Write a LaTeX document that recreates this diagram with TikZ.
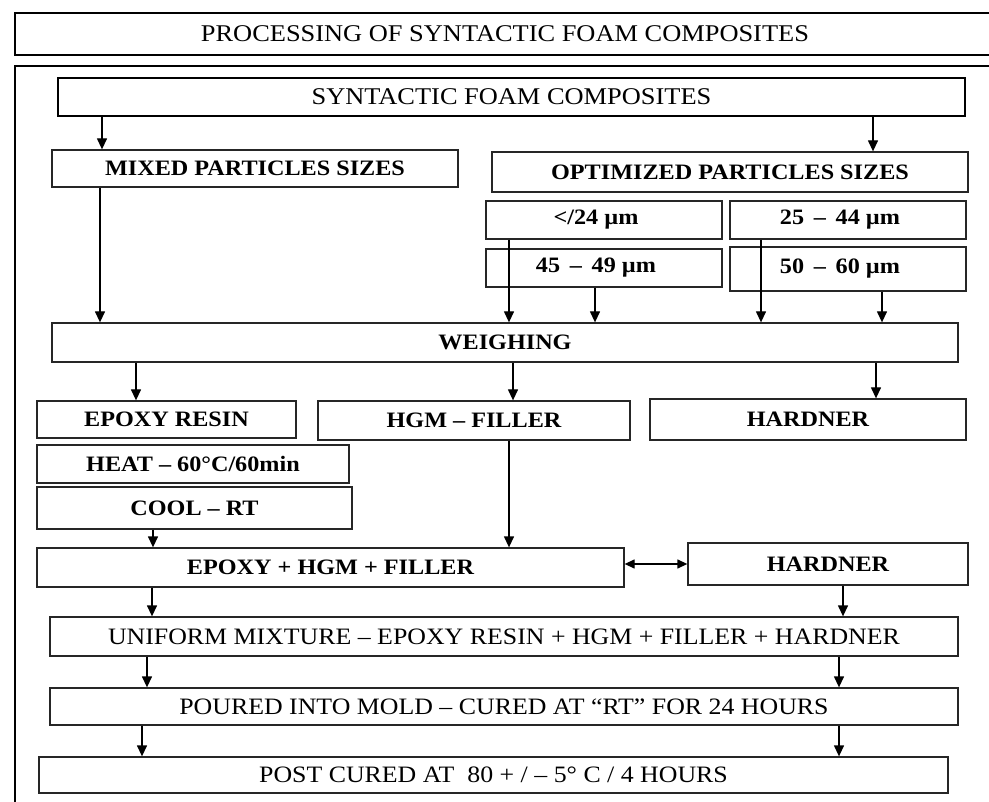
\documentclass[tikz,border=0pt]{standalone}
\usepackage{fontspec}
\setmainfont{Liberation Serif}[FakeStretch=1.1]
\usetikzlibrary{arrows.meta}

\begin{document}
\begin{tikzpicture}[
    x=1pt, y=-1pt,
    stage/.style={
      rectangle, draw=black!85, line width=1.3pt, inner sep=0pt,
      font=\fontsize{22}{26}\selectfont\bfseries
    },
    plainstage/.style={
      stage, font=\fontsize{23.5}{28}\selectfont
    },
    heavy/.style={draw=black, line width=2.8pt},
    wh/.style 2 args={minimum width=#1pt, minimum height=#2pt},
    arr/.style={-{Triangle[length=11pt,width=10pt]}, line width=1.3pt},
    arrboth/.style={{Triangle[length=10pt,width=9pt]}-{Triangle[length=10pt,width=9pt]}, line width=1.3pt},
]
\useasboundingbox (0,0) rectangle (989,802);
\clip (0,0) rectangle (989,802);

% ===== FRAMES =====
\node[plainstage, heavy, wh={980}{42}, font=\fontsize{24}{28}\selectfont] (title) at (505,34)
  {PROCESSING OF SYNTACTIC FOAM COMPOSITES};
\draw[line width=2.8pt] (15,66) rectangle (995,840);

% ===== MATERIAL AND PARTICLE SIZES =====
\node[plainstage, heavy, wh={907}{38}, font=\fontsize{24}{28}\selectfont] (sfc) at (511.5,97)
  {SYNTACTIC FOAM COMPOSITES};
\node[stage, wh={406}{37}] (mixed) at (255,168.5) {MIXED PARTICLES SIZES};
\node[stage, wh={476}{40}] (opt) at (730,172) {OPTIMIZED PARTICLES SIZES};

\node[stage, wh={236}{38}] (s24) at (604,220) {</24 µm\kern16pt};
\node[stage, wh={236}{38}] (s44) at (848,220) {25 \,–\, 44 µm\kern16pt};
\node[stage, wh={236}{38}] (s49) at (604,268) {45 \,–\, 49 µm\kern16pt};
\node[stage, wh={236}{44}] (s60) at (848,269) {50 \,–\, 60 µm\kern16pt};

% ===== WEIGHING AND COMPONENTS =====
\node[stage, wh={906}{39}] (weigh) at (505,342.5) {WEIGHING};
\node[stage, wh={259}{37}] (epoxy) at (166.5,419.5) {EPOXY RESIN};
\node[stage, wh={312}{39}] (hgm) at (474,420.5) {HGM – FILLER};
\node[stage, wh={316}{41}] (hard1) at (808,419.5) {HARDNER};
\node[stage, wh={312}{38}] (heat) at (193,464) {HEAT – 60°C/60min};
\node[stage, wh={315}{42}] (cool) at (194.5,508) {COOL – RT};

% ===== MIXING AND CURING =====
\node[stage, wh={587}{39}] (ehf) at (330.5,567.5) {EPOXY + HGM + FILLER};
\node[stage, wh={280}{42}] (hard2) at (828,564) {HARDNER};
\node[plainstage, wh={908}{39}] (unif) at (504,636.5)
  {UNIFORM MIXTURE – EPOXY RESIN + HGM + FILLER + HARDNER};
\node[plainstage, wh={908}{37}] (pour) at (504,706.5)
  {POURED INTO MOLD – CURED AT “RT” FOR 24 HOURS};
\node[plainstage, wh={909}{36}] (post) at (493.5,775)
  {POST CURED AT~ 80 + / – 5° C / 4 HOURS};

% ===== ARROWS =====
\draw[arr] (102,0 |- sfc.south) -- (102,0 |- mixed.north);
\draw[arr] (873,0 |- sfc.south) -- (873,0 |- opt.north);
\draw[arr] (100,0 |- mixed.south) -- (100,0 |- weigh.north);
\draw[arr] (509,0 |- s24.south) -- (509,0 |- weigh.north);
\draw[arr] (595,0 |- s49.south) -- (595,0 |- weigh.north);
\draw[arr] (761,0 |- s44.south) -- (761,0 |- weigh.north);
\draw[arr] (882,0 |- s60.south) -- (882,0 |- weigh.north);

\draw[arr] (136,0 |- weigh.south) -- (136,0 |- epoxy.north);
\draw[arr] (513,0 |- weigh.south) -- (513,0 |- hgm.north);
\draw[arr] (876,0 |- weigh.south) -- (876,0 |- hard1.north);

\draw[arr] (153,0 |- cool.south) -- (153,0 |- ehf.north);
\draw[arr] (509,0 |- hgm.south) -- (509,0 |- ehf.north);
\draw[arrboth] (ehf.east |- hard2.west) -- (hard2.west);

\draw[arr] (152,0 |- ehf.south) -- (152,0 |- unif.north);
\draw[arr] (843,0 |- hard2.south) -- (843,0 |- unif.north);
\draw[arr] (147,0 |- unif.south) -- (147,0 |- pour.north);
\draw[arr] (839,0 |- unif.south) -- (839,0 |- pour.north);
\draw[arr] (142,0 |- pour.south) -- (142,0 |- post.north);
\draw[arr] (839,0 |- pour.south) -- (839,0 |- post.north);

\end{tikzpicture}
\end{document}
